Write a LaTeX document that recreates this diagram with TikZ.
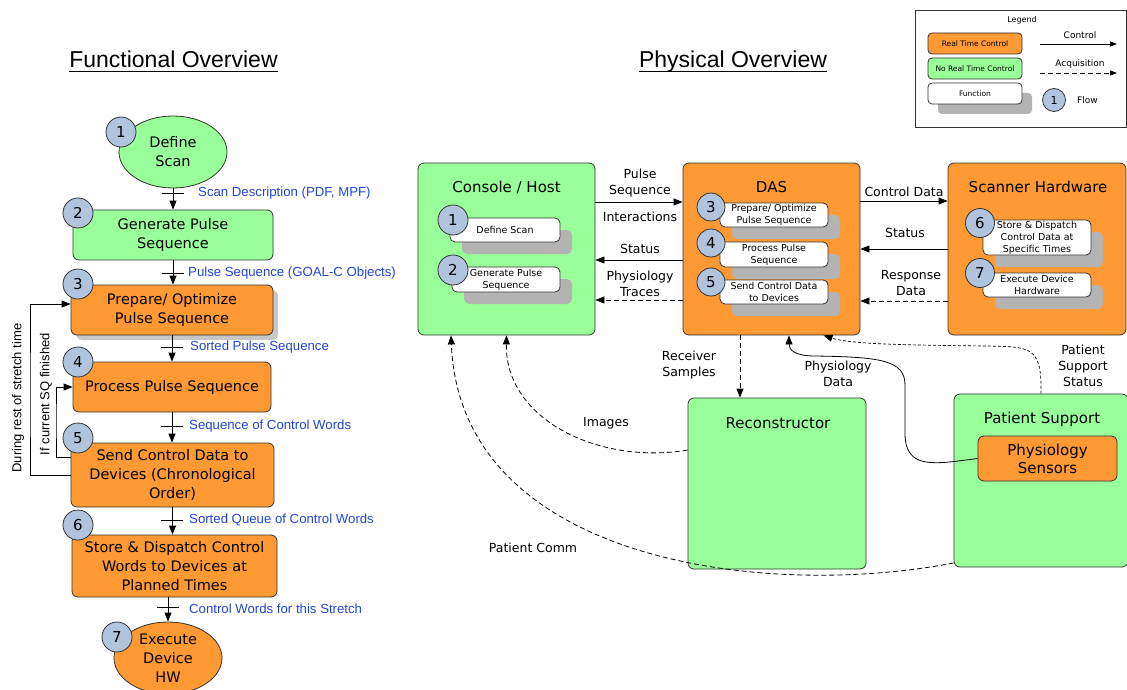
\documentclass[tikz,border=0pt]{standalone}
\usepackage{fontspec}
\setmainfont{DejaVu Sans}
\newfontfamily\arialfont{Liberation Sans}
\usetikzlibrary{shapes.geometric,arrows.meta,shadows}
\definecolor{rtorange}{HTML}{FF9933}
\definecolor{nrtgreen}{HTML}{99FF99}
\definecolor{flowblue}{HTML}{B0C4DE}
\definecolor{shadegray}{HTML}{B3B3B3}
\definecolor{labelblue}{HTML}{2244DD}
\newcommand{\setfs}[2]{\fontsize{#1}{#2}\selectfont}
\tikzset{
  box/.style={draw=black!80, line width=0.8pt, rounded corners=6pt, align=center, inner sep=1pt},
  rtbox/.style={box, fill=rtorange},
  nrtbox/.style={box, fill=nrtgreen},
  fnbox/.style={box, fill=white, rounded corners=5pt, inner sep=0.5pt, font=\setfs{9.5}{12},
    drop shadow={shadow xshift=#1, shadow yshift=-#1, fill=shadegray, opacity=1}},
  fnbox/.default=12pt,
  bigtxt/.style={font=\setfs{14.5}{19}},
  ttl/.style={font=\setfs{15}{18}, inner sep=0pt},
  lbl/.style={font=\setfs{12.5}{16}, align=center, inner sep=0pt},
  flownum/.style={circle, draw=black!80, line width=0.8pt, fill=flowblue, minimum size=#1, inner sep=0pt, font=\setfs{15}{15}},
  flownum/.default=30pt,
  bluelbl/.style={font=\arialfont\setfs{13.2}{15}, text=labelblue, anchor=west, inner sep=0pt},
  ctrl/.style={draw=black, line width=0.8pt, -{Triangle[length=9pt,width=7pt]}},
  acq/.style={ctrl, dash pattern=on 5pt off 3pt},
  tickmark/.style={draw=black, line width=0.8pt},
  heading/.style={font=\arialfont\setfs{23}{26}, inner sep=0pt, anchor=base},
}
\begin{document}
\begin{tikzpicture}[x=1pt, y=-1pt]
\useasboundingbox (0,0) rectangle (1127,690);
\clip (0,0) rectangle (1127,690);

% ---------------- headings ----------------
\node[heading] (funchd) at (173.5,68) {Functional Overview};
\draw[line width=1.3pt] ([yshift=-3.5pt]funchd.base west) -- ([yshift=-3.5pt]funchd.base east);
\node[heading] (physhd) at (733,68) {Physical Overview};
\draw[line width=1.3pt] ([yshift=-3.5pt]physhd.base west) -- ([yshift=-3.5pt]physhd.base east);

% ---------------- functional flow ----------------
\node[nrtbox, ellipse, minimum width=108pt, minimum height=72pt, inner sep=0pt,
      label={[bigtxt, align=center]center:Define\\Scan}] (def) at (173,152) {};
\node[nrtbox, bigtxt, minimum width=200pt, minimum height=50pt] (gen) at (173,235) {Generate Pulse\\Sequence};
\node[rtbox, bigtxt, minimum width=202pt, minimum height=50pt,
      drop shadow={shadow xshift=5pt, shadow yshift=-5pt, fill=black!22, opacity=1}] (prep) at (172,310) {Prepare/ Optimize\\Pulse Sequence};
\node[rtbox, bigtxt, minimum width=198pt, minimum height=50pt] (proc) at (172,387) {Process Pulse Sequence};
\node[rtbox, bigtxt, minimum width=203pt, minimum height=64pt] (send) at (172.5,475) {Send Control Data to\\Devices (Chronological\\Order)};
\node[rtbox, bigtxt, minimum width=205pt, minimum height=62pt] (store) at (174.5,566) {Store \& Dispatch Control\\Words to Devices at\\Planned Times};
\node[rtbox, ellipse, minimum width=108pt, minimum height=72pt, inner sep=0pt,
      label={[bigtxt, align=center]center:Execute\\Device\\HW}] (exec) at (168,658) {};

\draw[ctrl] (def.south) -- (gen.north);
\draw[tickmark] (162,193) -- (184,193);
\node[bluelbl] (l1) at (198,193) {Scan Description (PDF, MPF)};
\draw[ctrl] (gen.south) -- (gen.south |- prep.north);
\draw[tickmark] (162,273) -- (184,273);
\node[bluelbl] (l2) at (188,273) {Pulse Sequence (GOAL-C Objects)};
\draw[ctrl] (prep.south) -- (prep.south |- proc.north);
\draw[tickmark] (161,347) -- (183,347);
\node[bluelbl] (l3) at (190,347) {Sorted Pulse Sequence};
\draw[ctrl] (proc.south) -- (proc.south |- send.north);
\draw[tickmark] (161,426) -- (183,426);
\node[bluelbl] (l4) at (189,426) {Sequence of Control Words};
\draw[ctrl] (send.south) -- (send.south |- store.north);
\draw[tickmark] (161,520) -- (183,520);
\node[bluelbl] (l5) at (189,520) {Sorted Queue of Control Words};
\draw[ctrl] (exec.north |- store.south) -- (exec.north);
\draw[tickmark] (157,607) -- (179,607);
\node[bluelbl] (l6) at (189,609) {Control Words for this Stretch};

% feedback loops
\coordinate (outerloop) at (30,400);
\coordinate (innerloop) at (56,420);
\draw[ctrl] (send.west) -| (outerloop) |- ([yshift=6pt]prep.west);
\draw[ctrl] ([yshift=18pt]send.west) -| (innerloop) |- (proc.west);
\node[rotate=90, font=\arialfont\setfs{13}{15}, inner sep=0pt] (outerlbl) at (18,398) {During rest of stretch time};
\node[rotate=90, font=\arialfont\setfs{13}{15}, inner sep=0pt] (innerlbl) at (46,394) {If current SQ finished};

\node[flownum] (f1) at (121,132) {1};
\node[flownum] (f2) at (78,213) {2};
\node[flownum] (f3) at (78,284) {3};
\node[flownum] (f4) at (78,362) {4};
\node[flownum] (f5) at (78,438) {5};
\node[flownum] (f6) at (78,525) {6};
\node[flownum] (f7) at (117,637) {7};

% ---------------- physical blocks ----------------
\node[nrtbox, minimum width=177pt, minimum height=172pt] (console) at (506.5,249) {};
\node[ttl] (consolet) at (506.5,187) {Console / Host};
\node[rtbox, minimum width=177pt, minimum height=172pt] (das) at (771.5,249) {};
\node[ttl] (dast) at (771.5,187) {DAS};
\node[rtbox, minimum width=178pt, minimum height=172pt] (scanner) at (1037,249) {};
\node[ttl] (scannert) at (1038,187) {Scanner Hardware};
\node[nrtbox, minimum width=178pt, minimum height=171pt] (recon) at (777,483.5) {};
\node[ttl] (recont) at (778,423) {Reconstructor};
\node[nrtbox, minimum width=174pt, minimum height=173pt] (patsup) at (1041,480.5) {};
\node[ttl] (patsupt) at (1042,419) {Patient Support};
\node[rtbox, minimum width=139pt, minimum height=45pt, font=\setfs{15}{18}] (sensors) at (1047.5,458.5) {Physiology\\Sensors};

% functions inside the blocks
\node[fnbox, minimum width=110pt, minimum height=24pt] (pc1) at (505,230) {Define Scan};
\node[fnbox, minimum width=108pt, minimum height=25pt] (pc2) at (506,279.5) {Generate Pulse\\Sequence};
\node[fnbox, minimum width=108pt, minimum height=24pt] (pd3) at (774,215) {Prepare/ Optimize\\Pulse Sequence};
\node[fnbox, minimum width=108pt, minimum height=25pt] (pd4) at (774,254.5) {Process Pulse\\Sequence};
\node[fnbox, minimum width=108pt, minimum height=24pt] (pd5) at (774,292) {Send Control Data\\to Devices};
\node[fnbox, minimum width=108pt, minimum height=35pt] (ps6) at (1037,237.5) {Store \& Dispatch\\Control Data at\\Specific Times};
\node[fnbox, minimum width=108pt, minimum height=24pt] (ps7) at (1037,285) {Execute Device\\Hardware};

\node[flownum] (q1) at (453,220) {1};
\node[flownum] (q2) at (453,270) {2};
\node[flownum=28pt] (q3) at (711,207) {3};
\node[flownum=28pt] (q4) at (711,243) {4};
\node[flownum=28pt] (q5) at (711,282) {5};
\node[flownum=29pt] (q6) at (980,223) {6};
\node[flownum=29pt] (q7) at (980,273) {7};

% console <-> DAS
\draw[ctrl] ([yshift=47pt]console.east) -- ([yshift=47pt]das.west);
\node[lbl] (t1) at (640,183) {Pulse\\Sequence};
\node[lbl] (t2) at (640,217) {Interactions};
\draw[ctrl] ([yshift=-11pt]das.west) -- ([yshift=-11pt]console.east);
\node[lbl] (t3) at (640,249) {Status};
\draw[acq] ([yshift=-51pt]das.west) -- ([yshift=-51pt]console.east);
\node[lbl] (t4) at (640,284) {Physiology\\Traces};

% DAS <-> scanner
\draw[ctrl] ([yshift=48pt]das.east) -- ([yshift=48pt]das.east -| scanner.west);
\node[lbl] (t5) at (904,192) {Control Data};
\draw[ctrl] (scanner.west |- das.east) -- (das.east);
\node[lbl] (t6) at (905,233) {Status};
\draw[acq] ([yshift=-52pt]das.east -| scanner.west) -- ([yshift=-52pt]das.east);
\node[lbl] (t7) at (911,283) {Response\\Data};

% lower connectors
\draw[acq] ([xshift=-31.5pt]das.south) -- ([xshift=-31.5pt]das.south |- recon.north);
\node[lbl] (t8) at (689,365) {Receiver\\Samples};
\draw[acq] ([yshift=33.5pt]recon.west) .. controls (600,465) and (505,420) .. (console.south);
\node[lbl] (t9) at (606,423) {Images};
\draw[acq] ([yshift=-82.5pt]patsup.west) .. controls (760,600) and (460,560) .. ([xshift=-55.5pt]console.south);
\node[lbl] (t10) at (533,548) {Patient Comm};
\draw[ctrl] (sensors.west) .. controls (935,464) and (906,470) .. (905,435) -- (905,385)
  .. controls (905,360) and (880,357) .. (815,356) .. controls (795,356) and (789,350) .. ([xshift=17.5pt]das.south);
\node[lbl] (t11) at (838,374) {Physiology\\Data};
\draw[ctrl, line width=0.7pt, dash pattern=on 3pt off 2pt] (patsup.north)
  .. controls (1042,345) and (1030,347) .. (985,346) .. controls (900,345) and (850,344) .. ([xshift=52pt]das.south);
\node[lbl] (t12) at (1083,366) {Patient\\Support\\Status};

% ---------------- legend ----------------
\node[draw=black!80, line width=0.8pt, minimum width=211pt, minimum height=117pt, inner sep=0pt] (legend) at (1020.5,68.5) {};
\node[font=\setfs{8}{9}, inner sep=0pt] (legendhd) at (1022,20) {Legend};
\node[rtbox, rounded corners=4pt, minimum width=94pt, minimum height=21pt, font=\setfs{7.5}{9}] (lgrt) at (975,43.5) {Real Time Control};
\node[nrtbox, rounded corners=4pt, minimum width=94pt, minimum height=21pt, font=\setfs{7.5}{9}] (lgnrt) at (975,68.5) {No Real Time Control};
\node[fnbox=10pt, rounded corners=4pt, minimum width=94pt, minimum height=21pt, font=\setfs{7.5}{9}] (lgfn) at (975,93.5) {Function};
\coordinate (lgc1) at (1040,44);
\coordinate (lgc2) at (1117,44);
\draw[ctrl, -{Triangle[length=7pt,width=5pt]}] (lgc1) -- (lgc2);
\node[font=\setfs{9}{10}, inner sep=0pt] (lgctrl) at (1080,35) {Control};
\coordinate (lga1) at (1040,73);
\coordinate (lga2) at (1117,73);
\draw[acq, -{Triangle[length=7pt,width=5pt]}] (lga1) -- (lga2);
\node[font=\setfs{9}{10}, inner sep=0pt] (lgacq) at (1080,64) {Acquisition};
\node[flownum=23pt, font=\setfs{11}{11}] (lgflow) at (1054,100) {1};
\node[font=\setfs{9}{10}, anchor=west, inner sep=0pt] (lgflowtxt) at (1077,100) {Flow};
\end{tikzpicture}
\end{document}
